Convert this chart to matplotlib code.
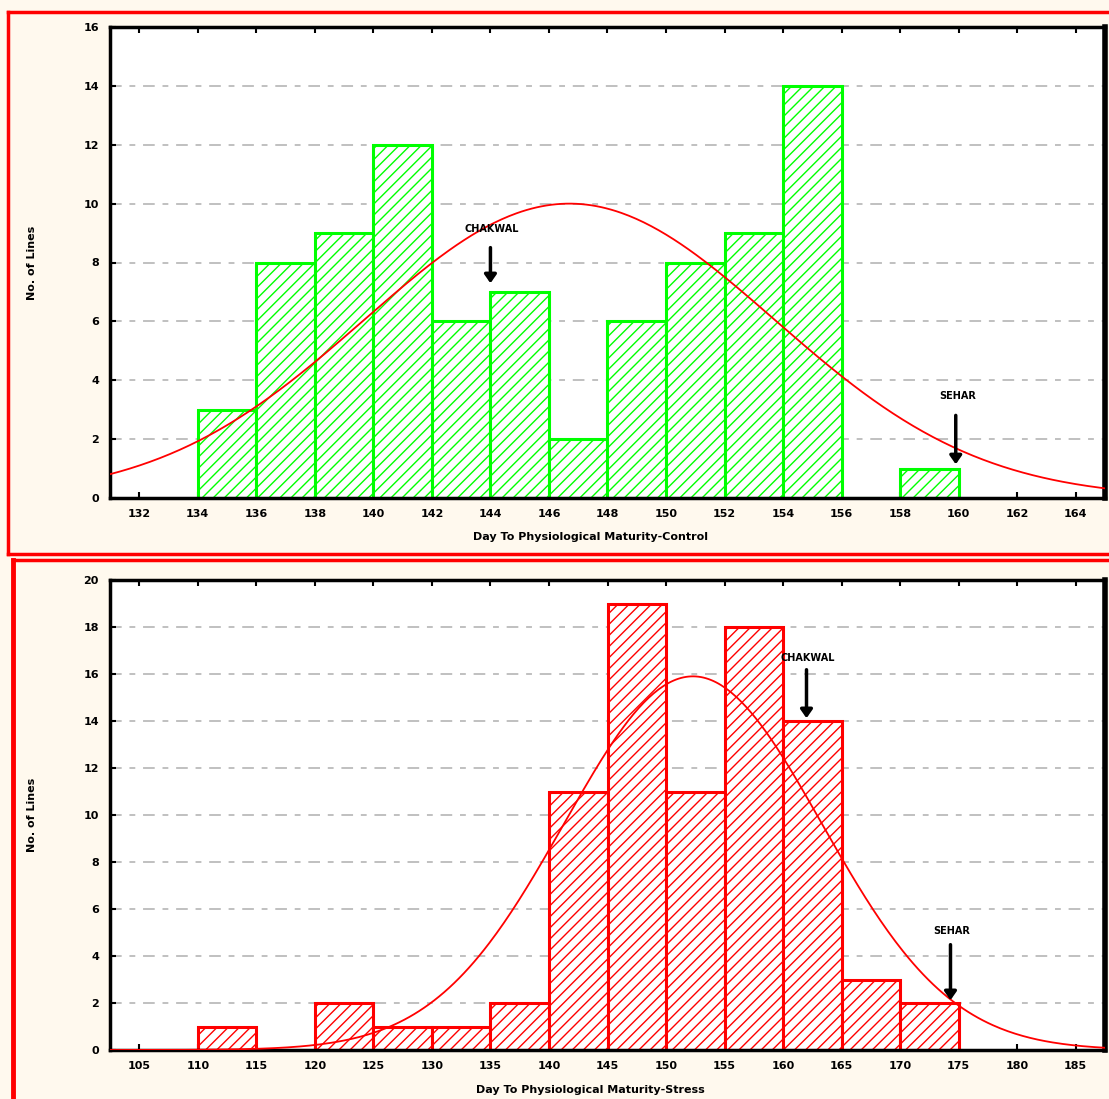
import numpy as np
import matplotlib
matplotlib.use("Agg")
import matplotlib.pyplot as plt
from matplotlib.patches import Rectangle
from matplotlib.lines import Line2D

# ---------------- data ----------------
ctrl_edges = [134, 136, 138, 140, 142, 144, 146, 148, 150, 152, 154, 156, 158]
ctrl_counts = [3, 8, 9, 12, 6, 7, 2, 6, 8, 9, 14, 0, 1]
ctrl_width = 2
ctrl_xticks = [132, 134, 136, 138, 140, 142, 144, 146, 148, 150, 152, 154, 156, 158, 160, 162, 164]
ctrl_yticks = [0, 2, 4, 6, 8, 10, 12, 14, 16]
ctrl_fit = dict(mean=146.7, sd=7.0, peak=10.0)

str_edges = [110, 115, 120, 125, 130, 135, 140, 145, 150, 155, 160, 165, 170]
str_counts = [1, 0, 2, 1, 1, 2, 11, 19, 11, 18, 14, 3, 2]
str_width = 5
str_xticks = [105, 110, 115, 120, 125, 130, 135, 140, 145, 150, 155, 160, 165, 170, 175, 180, 185]
str_yticks = [0, 2, 4, 6, 8, 10, 12, 14, 16, 18, 20]
str_fit = dict(mean=152.3, sd=11.0, peak=15.9)

ctrl_notes = [("CHAKWAL", 144.0, 9.15, 8.6, 7.2), ("SEHAR", 159.9, 3.45, 2.9, 1.05)]
str_notes = [("CHAKWAL", 162.0, 16.7, 16.3, 14.0), ("SEHAR", 174.3, 5.05, 4.6, 2.0)]

ylabel = "No. of Lines"
xlabel_ctrl = "Day To Physiological Maturity-Control"
xlabel_str = "Day To Physiological Maturity-Stress"

# ---------------- style ----------------
BG = "#FFF9EE"
plt.rcParams["hatch.linewidth"] = 1.0
plt.rcParams["font.family"] = ["DejaVu Sans"]

W, H = 1109, 1099
fig = plt.figure(figsize=(W / 100, H / 100), dpi=100, facecolor=BG)


def fx(px):
    return px / W


def fy(py):
    return 1 - py / H


# red panel frames
fig.add_artist(Line2D([fx(8), fx(8)], [fy(12), fy(554)], color="red", lw=2.5))
fig.add_artist(Line2D([fx(8), 1], [fy(12), fy(12)], color="red", lw=2.5))
fig.add_artist(Line2D([fx(8), 1], [fy(554), fy(554)], color="red", lw=2.5))
fig.add_artist(Line2D([fx(13), fx(13)], [fy(560), 0], color="red", lw=3.5))
fig.add_artist(Line2D([fx(13), 1], [fy(560), fy(560)], color="red", lw=2.5))


def panel(rect, edges, counts, width, xticks, yticks, xlim, ylim, color, fit, notes, xlabel, xlab_y):
    ax = fig.add_axes(rect)
    ax.set_facecolor("white")
    ax.bar(edges, counts, width=width, align="edge", facecolor="white",
           edgecolor=color, hatch="///", linewidth=2.2, zorder=2)
    xs = np.linspace(xlim[0], xlim[1], 400)
    ys = fit["peak"] * np.exp(-0.5 * ((xs - fit["mean"]) / fit["sd"]) ** 2)
    ax.plot(xs, ys, color="red", lw=1.3, zorder=3)
    ax.set_xlim(*xlim)
    ax.set_ylim(*ylim)
    ax.set_xticks(xticks)
    ax.set_yticks(yticks)
    ax.set_xticklabels([str(t) for t in xticks], fontsize=8, fontweight="bold")
    ax.set_yticklabels([str(t) for t in yticks], fontsize=8, fontweight="bold")
    ax.tick_params(axis="both", direction="in", length=4, width=1.5, top=True, right=False, pad=8)
    ax.yaxis.grid(True, color="#C0C0C0", linestyle=(0, (6, 4, 3, 4)), lw=1.4, zorder=1)
    ax.set_axisbelow(True)
    for s in ax.spines.values():
        s.set_linewidth(2.5)
        s.set_color("black")
    ax.spines["right"].set_linewidth(4)
    for name, x, ty, y0, y1 in notes:
        ax.text(x + (xlim[1] - xlim[0]) * 0.0015, ty, name, fontsize=7, fontweight="bold",
                ha="center", va="center", zorder=5)
        ax.annotate("", xy=(x, y1), xytext=(x, y0),
                    arrowprops=dict(arrowstyle="-|>,head_width=0.35,head_length=0.5",
                                    lw=2.5, color="black"), zorder=5)
    fig.text(rect[0] + rect[2] / 2 - 0.015, xlab_y, xlabel, fontsize=8, fontweight="bold",
             ha="center", va="center")
    fig.text(fx(32), rect[1] + rect[3] / 2, ylabel, fontsize=8, fontweight="bold",
             rotation=90, ha="center", va="center")
    return ax


panel([fx(110), fy(498), fx(1105) - fx(110), fy(27) - fy(498)],
      ctrl_edges, ctrl_counts, ctrl_width, ctrl_xticks, ctrl_yticks,
      (131, 165), (0, 16), "#00FF00", ctrl_fit, ctrl_notes, xlabel_ctrl, fy(537))

panel([fx(110), fy(1050), fx(1105) - fx(110), fy(580) - fy(1050)],
      str_edges, str_counts, str_width, str_xticks, str_yticks,
      (102.5, 187.5), (0, 20), "#FF0000", str_fit, str_notes, xlabel_str, fy(1090))

fig.savefig("out.png", dpi=100, facecolor=BG)
